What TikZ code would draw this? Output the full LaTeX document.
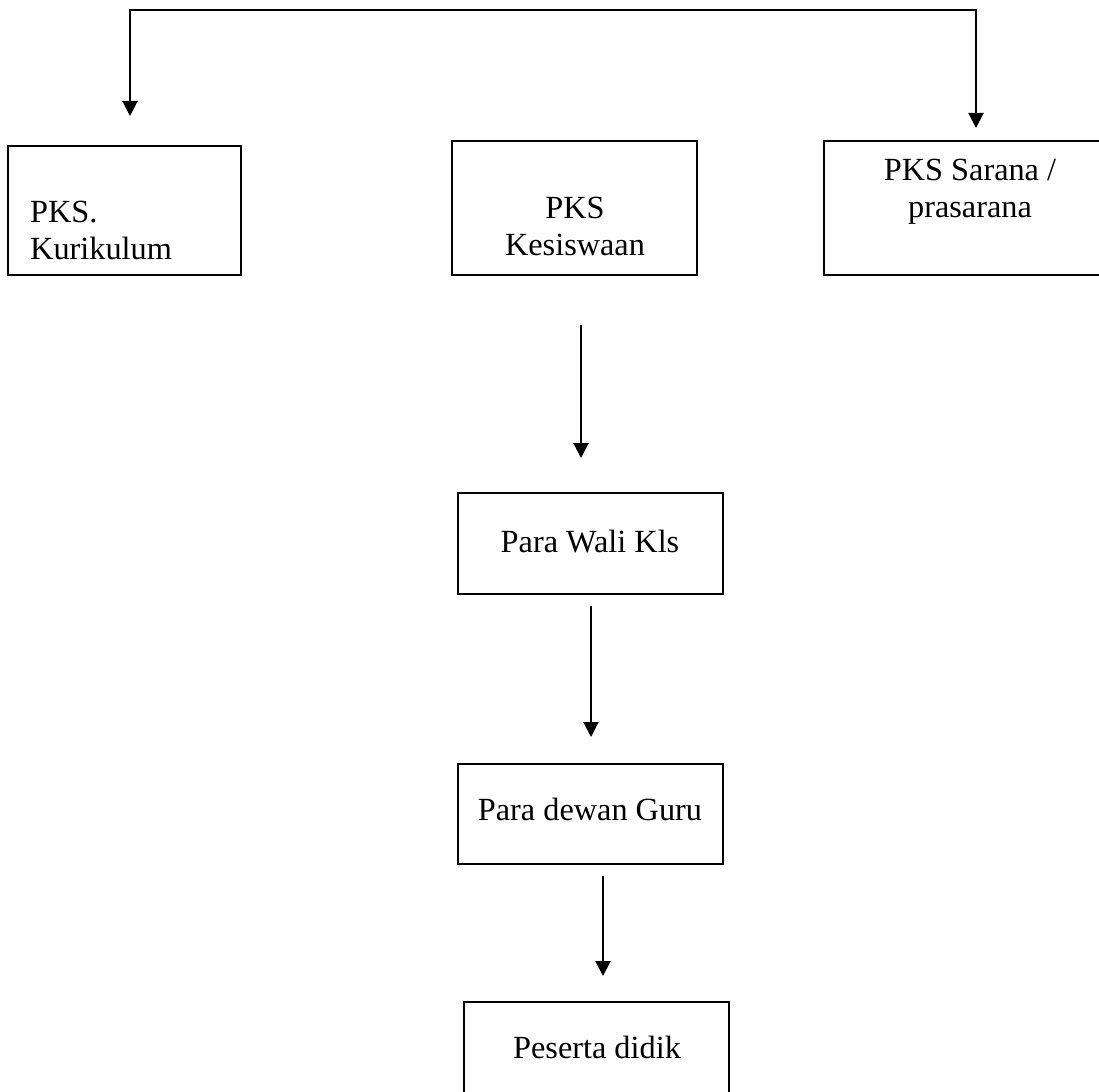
\documentclass[tikz,border=0pt]{standalone}
\usepackage{fontspec}
\setmainfont{Liberation Serif}
\usetikzlibrary{arrows.meta}
\begin{document}
\begin{tikzpicture}[x=1pt,y=-1pt,
  boxstyle/.style={draw=black,line width=2pt},
  lbl/.style={inner sep=0pt,font=\fontsize{32.3}{37}\selectfont},
  arr/.style={line width=2pt,-{Triangle[width=15pt,length=15pt]}},
  barr/.style={line width=2pt,{Triangle[width=15pt,length=15pt]}-{Triangle[width=15pt,length=15pt]}}]
\clip (0,0) rectangle (1099,1091);
\fill[white] (0,0) rectangle (1099,1091);
% boxes
\draw[boxstyle] (8,146) rectangle (241,275);
\node[inner sep=0pt] (kur) at (124.5,210.5) {};
\draw[boxstyle] (452,141) rectangle (697,275);
\node[inner sep=0pt] (kes) at (574.5,208) {};
\draw[boxstyle] (824,141) rectangle (1120,275);
\node[inner sep=0pt] (sar) at (972,208) {};
\draw[boxstyle] (458,493) rectangle (723,594);
\node[inner sep=0pt] (wali) at (590.5,543.5) {};
\draw[boxstyle] (458,764) rectangle (723,864);
\node[inner sep=0pt] (guru) at (590.5,814) {};
\draw[boxstyle] (464,1002) rectangle (729,1120);
\node[inner sep=0pt] (didik) at (596.5,1050) {};
% texts (base anchor = baseline of last line)
\node[lbl,anchor=base west,align=left] (tkur) at (30,259) {PKS.\\Kurikulum};
\node[lbl,anchor=base,align=center] (tkes) at (575,255) {PKS\\Kesiswaan};
\node[lbl,anchor=base,align=center] (tsar) at (970,218) {PKS Sarana /\\prasarana};
\node[lbl,anchor=base] (twali) at (590,552) {Para Wali Kls};
\node[lbl,anchor=base] (tguru) at (590,820) {Para dewan Guru};
\node[lbl,anchor=base] (tdidik) at (597,1058) {Peserta didik};
% connector end points
\coordinate (kurtip) at (130,116);
\coordinate (sartip) at (976,128);
\coordinate (a1s) at (581,325);
\coordinate (a1e) at (581,458);
\coordinate (a2s) at (591,606);
\coordinate (a2e) at (591,737);
\coordinate (a3s) at (603,876);
\coordinate (a3e) at (603,976);
% connectors
\draw[barr] (kurtip) -- (kurtip |- 0,10) -- (sartip |- 0,10) -- (sartip);
\draw[arr] (a1s) -- (a1e);
\draw[arr] (a2s) -- (a2e);
\draw[arr] (a3s) -- (a3e);
\end{tikzpicture}
\end{document}
